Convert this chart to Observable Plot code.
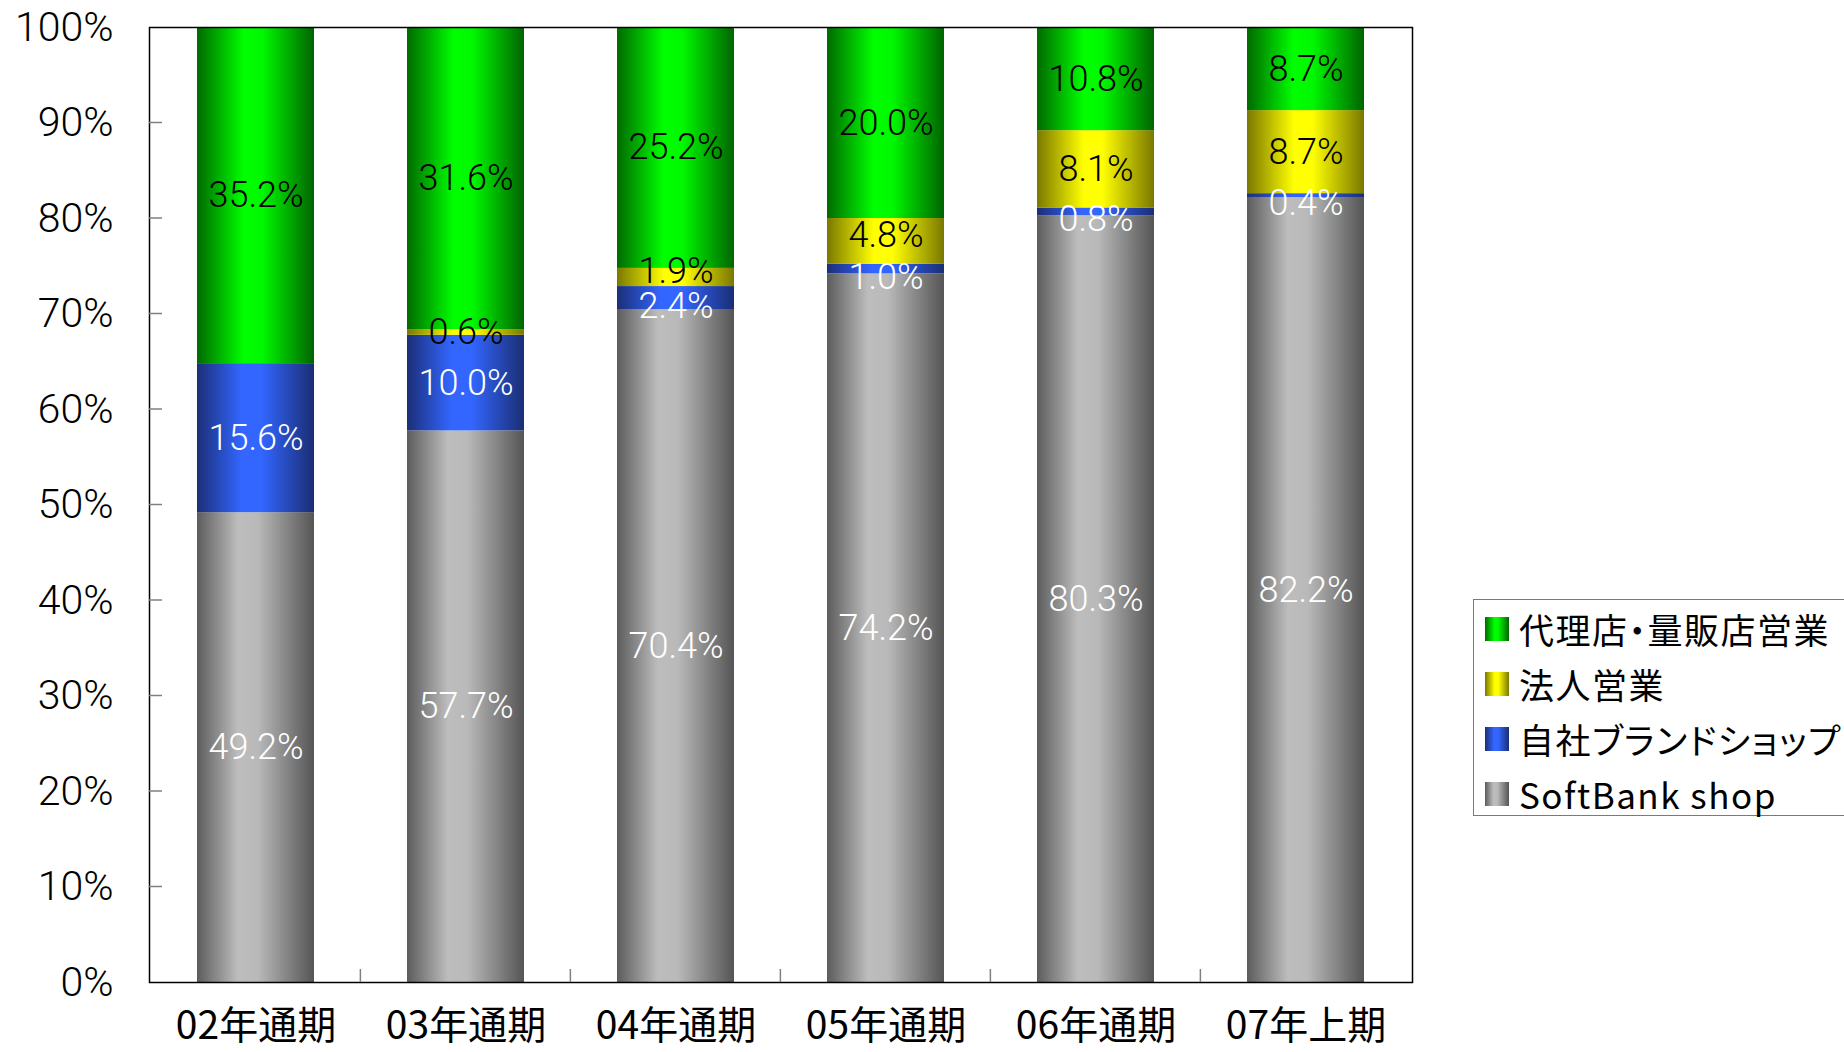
<!DOCTYPE html>
<html>
<head>
<meta charset="utf-8">
<script src="https://cdn.jsdelivr.net/npm/d3@7"></script>
<script src="https://cdn.jsdelivr.net/npm/@observablehq/plot@0.6"></script>
<style>
  html, body { margin: 0; padding: 0; background: #fff; overflow: hidden; }
  #wrap { position: relative; width: 1844px; height: 1052px; overflow: hidden; }
  #legend { position: absolute; left: 1473px; top: 599px; width: 420px; height: 217px;
            border: 1.5px solid #7a7a7a; background: #fff; box-sizing: border-box; padding-top: 1px; }
  .row { display: flex; align-items: center; height: 55px; padding-left: 11px; }
  .sw { width: 24px; height: 24px; margin-right: 10px; flex: none; }
  .lt { font-family: "Noto Sans CJK JP", sans-serif; font-size: 35px; letter-spacing: 1.5px;
        font-feature-settings: "palt"; color: #000; white-space: nowrap; }
</style>
</head>
<body>
<div id="wrap"></div>
<script>
// ---- data ----
const categories = ["02年通期", "03年通期", "04年通期", "05年通期", "06年通期", "07年上期"];
const seriesNames = ["SoftBank shop", "自社ブランドショップ", "法人営業", "代理店・量販店営業"];
const softbankShop = [49.2, 57.7, 70.4, 74.2, 80.3, 82.2];
const ownBrandShop = [15.6, 10.0, 2.4, 1.0, 0.8, 0.4];
const corporateSales = [0, 0.6, 1.9, 4.8, 8.1, 8.7];
const agencySales = [35.2, 31.6, 25.2, 20.0, 10.8, 8.7];
const yTicks = [0, 0.1, 0.2, 0.3, 0.4, 0.5, 0.6, 0.7, 0.8, 0.9, 1.0];
const legendOrder = ["代理店・量販店営業", "法人営業", "自社ブランドショップ", "SoftBank shop"];

// gradient styles (cylinder shading)
const gradients = {
  "SoftBank shop":       [["0%", "#5c5c5c"], ["35%", "#bdbdbd"], ["52%", "#b9b9b9"], ["100%", "#555555"]],
  "自社ブランドショップ": [["0%", "#1b2f78"], ["38%", "#3366ff"], ["55%", "#3366ff"], ["100%", "#1a2e74"]],
  "法人営業":            [["0%", "#7a7800"], ["40%", "#ffff00"], ["56%", "#ffff00"], ["100%", "#7a7800"]],
  "代理店・量販店営業":   [["0%", "#006a00"], ["40%", "#00ff00"], ["56%", "#00f800"], ["100%", "#006400"]]
};
const gradId = s => "grad" + seriesNames.indexOf(s);

const seriesValues = [softbankShop, ownBrandShop, corporateSales, agencySales];
const rows = [];
categories.forEach((c, i) => {
  seriesNames.forEach((s, j) => rows.push({period: c, series: s, value: seriesValues[j][i]}));
});
const fmt = d => d.value.toFixed(1) + "%";
// label groups: thin blue segments sit a little lower, thin yellow ones a little higher
const isThinBlue = d => d.series === "自社ブランドショップ" && d.value < 5;
const isThinYellow = d => d.series === "法人営業" && d.value > 1 && d.value < 5;
const isWhite = d => d.series === "SoftBank shop" || d.series === "自社ブランドショップ";

const W = 1844, H = 1052;
const stackOpts = {x: "period", y: "value", z: "series", offset: "normalize", order: seriesNames};
const labelFont = {fontFamily: "Roboto", fontWeight: 300, fontSize: 36};

const chart = Plot.plot({
  width: W, height: H,
  marginLeft: 149, marginRight: 432, marginTop: 27, marginBottom: 70,
  x: {domain: categories, paddingInner: 0.444, paddingOuter: 0.222, label: null},
  y: {domain: [0, 1], label: null},
  color: {type: "ordinal", domain: seriesNames, range: seriesNames.map(s => `url(#${gradId(s)})`)},
  marks: [
    Plot.barY(rows, Plot.stackY({...stackOpts, fill: "series"})),
    Plot.text(rows, Plot.stackY({...stackOpts, ...labelFont, fill: "white",
      text: d => d.value > 0 && isWhite(d) && !isThinBlue(d) ? fmt(d) : null})),
    Plot.text(rows, Plot.stackY({...stackOpts, ...labelFont, fill: "white", dy: 8,
      text: d => d.value > 0 && isThinBlue(d) ? fmt(d) : null})),
    Plot.text(rows, Plot.stackY({...stackOpts, ...labelFont, fill: "black",
      text: d => d.value > 0 && !isWhite(d) && !isThinYellow(d) ? fmt(d) : null})),
    Plot.text(rows, Plot.stackY({...stackOpts, ...labelFont, fill: "black", dy: -6,
      text: d => d.value > 0 && isThinYellow(d) ? fmt(d) : null})),
    Plot.axisY({ticks: yTicks, tickFormat: d3.format(".0%"), tickSize: 0, tickPadding: 36, label: null,
      fontSize: 41, fontFamily: "Roboto", fontWeight: 300, fill: "#000"}),
    Plot.axisX({tickSize: 0, tickPadding: 29, label: null, fontSize: 39, fontFamily: "Noto Sans CJK JP", fill: "#000"}),
    Plot.frame({stroke: "#000", strokeWidth: 1.5})
  ]
});

const svg = d3.select(chart);
// gradients
const defs = svg.insert("defs", ":first-child");
seriesNames.forEach(s => {
  const g = defs.append("linearGradient").attr("id", gradId(s)).attr("x1", "0").attr("x2", "1").attr("y1", "0").attr("y2", "0");
  gradients[s].forEach(([o, c]) => g.append("stop").attr("offset", o).attr("stop-color", c));
});
// inward tick marks from the library's scales
const xs = chart.scale("x"), ys = chart.scale("y");
const [xL] = xs.range;
const yBottom = ys.apply(0);
const tg = svg.append("g").attr("stroke", "#808080").attr("stroke-width", 1.5);
yTicks.slice(1, -1).forEach(v => {
  tg.append("line").attr("x1", xL).attr("x2", xL + 13).attr("y1", ys.apply(v)).attr("y2", ys.apply(v));
});
const step = xs.apply(categories[1]) - xs.apply(categories[0]);
categories.slice(1).forEach(c => {
  const bx = xs.apply(c) - 0.444 * step / 2;
  tg.append("line").attr("x1", bx).attr("x2", bx).attr("y1", yBottom).attr("y2", yBottom - 13);
});

const wrap = document.getElementById("wrap");
wrap.appendChild(chart);

// legend
const legend = document.createElement("div");
legend.id = "legend";
legendOrder.forEach(s => {
  const row = document.createElement("div");
  row.className = "row";
  const sw = document.createElement("div");
  sw.className = "sw";
  sw.style.background = "linear-gradient(to right, " + gradients[s].map(([o, c]) => c + " " + o).join(", ") + ")";
  const t = document.createElement("span");
  t.className = "lt";
  t.textContent = s;
  row.appendChild(sw); row.appendChild(t);
  legend.appendChild(row);
});
wrap.appendChild(legend);
</script>
</body>
</html>
